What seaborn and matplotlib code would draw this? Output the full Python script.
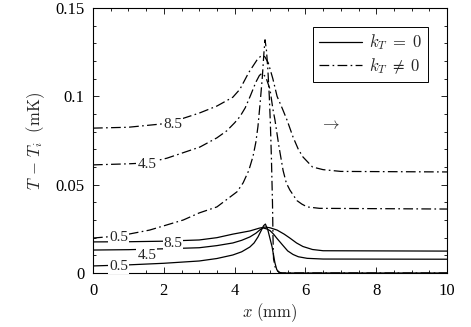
import numpy as np
import pandas as pd
import matplotlib
matplotlib.use("Agg")
import matplotlib.pyplot as plt
from matplotlib.ticker import MultipleLocator
from matplotlib.lines import Line2D
import seaborn as sns

# ---- data ----
# solid lines: k_T = 0
s05_x = [0, 1, 2, 3, 3.5, 3.95, 4.2, 4.43, 4.55, 4.66, 4.75, 4.82, 4.87, 4.94, 5.0, 5.06, 5.1, 5.14, 5.19, 5.25, 5.35, 10]
s05_y = [0.0040, 0.0046, 0.0055, 0.0068, 0.0082, 0.0102, 0.0120, 0.0147, 0.0170, 0.0204, 0.0240, 0.0268, 0.0277,
         0.0243, 0.0195, 0.0147, 0.0100, 0.0057, 0.0020, 0.0004, 0.0, 0.0]
s45_x = [0, 1, 2, 3, 3.5, 3.95, 4.2, 4.43, 4.6, 4.72, 4.8, 4.9, 5.0, 5.1, 5.2, 5.37, 5.5, 5.65, 5.8, 6.05, 6.5, 10]
s45_y = [0.0130, 0.0132, 0.0137, 0.0143, 0.0155, 0.0170, 0.0185, 0.0204, 0.0225, 0.0245, 0.0255, 0.0250, 0.0240,
         0.0220, 0.0195, 0.0155, 0.0125, 0.0105, 0.0092, 0.0083, 0.0079, 0.0078]
s85_x = [0, 1, 2, 3, 3.5, 3.95, 4.43, 4.7, 4.86, 5.0, 5.2, 5.4, 5.56, 5.75, 5.93, 6.2, 6.5, 10]
s85_y = [0.0176, 0.0177, 0.0180, 0.0187, 0.0200, 0.0220, 0.0238, 0.0254, 0.0260, 0.0256, 0.0243, 0.0220, 0.0198,
         0.0170, 0.0150, 0.0133, 0.0126, 0.0124]
# dash-dot lines: k_T != 0
d05_x = [0, 0.75, 1.6, 2.55, 3.0, 3.5, 4.07, 4.24, 4.4, 4.52, 4.6, 4.66, 4.72, 4.78, 4.83, 4.86, 4.9, 4.94, 4.98,
         5.01, 5.04, 5.07, 5.085, 5.1, 5.15, 5.22, 5.3, 10]
d05_y = [0.0198, 0.021, 0.0243, 0.030, 0.034, 0.0374, 0.046, 0.051, 0.058, 0.066, 0.074, 0.083, 0.096, 0.110, 0.125,
         0.132, 0.126, 0.115, 0.100, 0.085, 0.065, 0.040, 0.020, 0.008, 0.003, 0.001, 0.0, 0.0]
d45_x = [0, 1.0, 1.52, 2.09, 3.02, 3.5, 3.78, 4.0, 4.15, 4.3, 4.45, 4.6, 4.7, 4.77, 4.88, 5.0, 5.08, 5.14, 5.25,
         5.37, 5.46, 5.56, 5.66, 5.76, 5.9, 6.05, 6.4, 10]
d45_y = [0.0612, 0.0618, 0.0623, 0.065, 0.0713, 0.0765, 0.0805, 0.0850, 0.0885, 0.0935, 0.1005, 0.1080, 0.1118,
         0.1130, 0.1110, 0.1040, 0.0930, 0.0866, 0.0720, 0.0580, 0.0510, 0.0470, 0.0440, 0.0410, 0.0390, 0.0374,
         0.0366, 0.0362]
d85_x = [0, 1.0, 2.26, 2.54, 3.0, 3.5, 3.95, 4.15, 4.4, 4.63, 4.75, 4.85, 4.95, 5.08, 5.2, 5.35, 5.48, 5.65, 5.8,
         5.93, 6.2, 6.5, 7.0, 10]
d85_y = [0.082, 0.0825, 0.085, 0.0875, 0.0905, 0.0945, 0.0995, 0.1040, 0.1135, 0.1205, 0.1230, 0.1225, 0.1190,
         0.1100, 0.1000, 0.0930, 0.0866, 0.0770, 0.0700, 0.0657, 0.0600, 0.0585, 0.0575, 0.0572]

# inline labels (text, x, y)
label_text = ["0.5", "4.5", "8.5", "0.5", "4.5", "8.5"]
label_x = [0.73, 1.52, 2.26, 0.73, 1.52, 2.26]
label_y = [0.0045, 0.0110, 0.0178, 0.0210, 0.0622, 0.0850]

legend_labels = [r"$k_T\;=\;0$", r"$k_T\;\neq\;0$"]
x_ticks = [0, 2, 4, 6, 8, 10]
y_ticks = [0, 0.05, 0.1, 0.15]
y_ticklabels = ["0", "0.05", "0.1", "0.15"]

# ---- style ----
sns.set_theme(style="ticks")
plt.rcParams["font.family"] = ["Liberation Serif", "DejaVu Serif"]
plt.rcParams["mathtext.fontset"] = "cm"
plt.rcParams["lines.scale_dashes"] = False

fig = plt.figure(figsize=(4.71, 3.27), dpi=100)
ax = fig.add_axes([93 / 471, 1 - 273 / 327, 354 / 471, 265 / 327])

dashdot = (0, (7.0, 2.4, 1.2, 2.4))
lw = 0.9
solid_sets = [(s05_x, s05_y), (s45_x, s45_y), (s85_x, s85_y)]
dash_sets = [(d05_x, d05_y), (d45_x, d45_y), (d85_x, d85_y)]
for xs, ys in solid_sets:
    df = pd.DataFrame({"x": xs, "y": ys})
    sns.lineplot(data=df, x="x", y="y", ax=ax, color="black", linewidth=lw, linestyle="-", zorder=2)
for xs, ys in dash_sets:
    df = pd.DataFrame({"x": xs, "y": ys})
    sns.lineplot(data=df, x="x", y="y", ax=ax, color="black", linewidth=lw, zorder=2)
    ax.lines[-1].set_linestyle(dashdot)

for t, lx, ly in zip(label_text, label_x, label_y):
    ax.text(lx, ly, t, ha="center", va="center_baseline", fontsize=11, zorder=3,
            bbox=dict(boxstyle="square,pad=0.06", fc="white", ec="none"))

ax.text(6.7, 0.0838, r"$\rightarrow$", ha="center", va="center", fontsize=12)

ax.set_xlim(0, 10)
ax.set_ylim(0, 0.15)
ax.set_xticks(x_ticks)
ax.set_xticklabels([str(v) for v in x_ticks])
ax.set_yticks(y_ticks)
ax.set_yticklabels(y_ticklabels)
ax.xaxis.set_minor_locator(MultipleLocator(0.5))
ax.yaxis.set_minor_locator(MultipleLocator(0.01))
ax.tick_params(which="both", direction="in", top=True, right=True, colors="black", width=0.6)
ax.tick_params(which="major", length=4, labelsize=12)
ax.tick_params(which="minor", length=2.2)
ax.tick_params(axis="x", which="major", pad=7)
ax.tick_params(axis="y", which="major", pad=6)
for sp in ax.spines.values():
    sp.set_color("black")
    sp.set_linewidth(0.8)

ax.set_xlabel(r"$x\ (\mathrm{mm})$", fontsize=12, labelpad=2)
ax.set_ylabel(r"$T\, -\, T_i\ \ (\mathrm{mK})$", fontsize=12, labelpad=6)

handles = [Line2D([], [], color="black", lw=lw, linestyle="-"),
           Line2D([], [], color="black", lw=lw, linestyle=dashdot)]
leg = ax.legend(handles, legend_labels, loc="upper right", bbox_to_anchor=(0.946, 0.93),
                fontsize=12, frameon=True, fancybox=False, shadow=False, framealpha=1,
                edgecolor="black", handlelength=2.6, handletextpad=0.4, borderpad=0.35,
                labelspacing=0.25, borderaxespad=0)
leg.get_frame().set_linewidth(0.7)

fig.savefig("out.png", dpi=100)
